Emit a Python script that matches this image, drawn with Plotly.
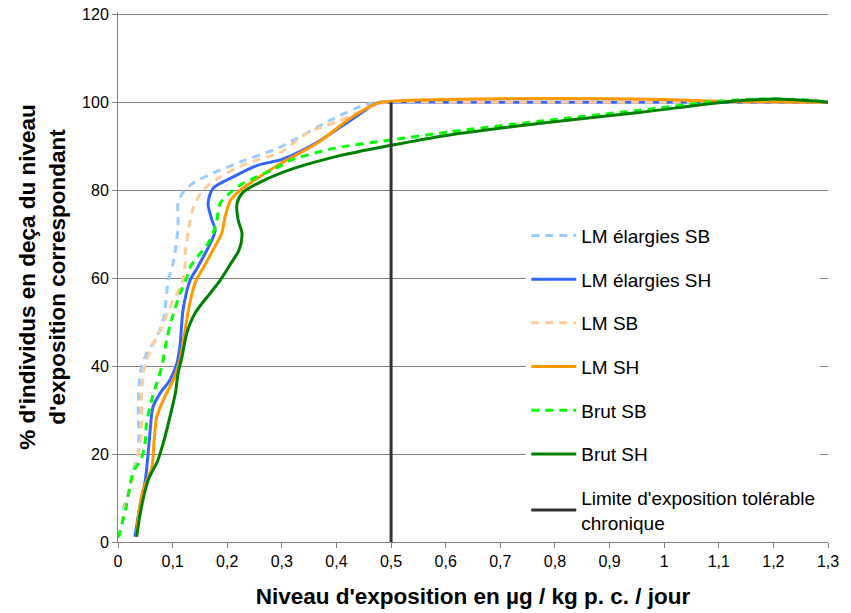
import plotly.graph_objects as go

# ---------------- data ----------------
lme_sb_x = [0.008, 0.011, 0.019, 0.028, 0.037, 0.037, 0.039, 0.043, 0.053, 0.068, 0.083, 0.092, 0.100, 0.105,
            0.110, 0.110, 0.119, 0.138, 0.174, 0.224, 0.297, 0.389, 0.45, 0.475, 0.6, 0.8, 1.0, 1.2, 1.3]
lme_sb_y = [4, 8, 11, 16.4, 20, 30, 36.4, 39.8, 43, 45.9, 50.5, 59.5, 63, 66.4,
            71.6, 77, 79.5, 81.6, 83.9, 86.4, 89.8, 95.9, 99.3, 100, 100, 100, 100, 100, 100]

lme_sh_x = [0.031, 0.040, 0.050, 0.055, 0.059, 0.064, 0.077, 0.095, 0.108, 0.114, 0.119, 0.132, 0.145, 0.156,
            0.169, 0.178, 0.172, 0.165, 0.174, 0.211, 0.257, 0.300, 0.365, 0.426, 0.475, 0.5, 0.6, 0.8, 1.0, 1.2, 1.3]
lme_sh_y = [1.2, 8, 14, 20, 25.5, 30.7, 33.8, 36.8, 40.7, 45.2, 52.7, 59.5, 62.3, 64.8,
            67.9, 70.9, 73.2, 77, 80.4, 83, 85.7, 87, 90.9, 95.9, 99.8, 100, 100, 100, 100, 100, 100]

lm_sb_x = [0.008, 0.013, 0.025, 0.037, 0.043, 0.043, 0.045, 0.050, 0.062, 0.080, 0.095, 0.117, 0.123, 0.123,
           0.129, 0.138, 0.156, 0.187, 0.236, 0.297, 0.347, 0.400, 0.462, 0.49, 0.6, 0.8, 1.0, 1.2, 1.3]
lm_sb_y = [4, 8, 13.4, 20, 25, 33, 36.4, 40.7, 44.3, 48.9, 53.4, 58.9, 63, 65.7,
           70.9, 76.1, 80, 83, 86.1, 88.6, 93, 95.5, 98.9, 100, 100, 100, 100, 100, 100]

lm_sh_x = [0.034, 0.037, 0.046, 0.062, 0.066, 0.071, 0.083, 0.101, 0.112, 0.119, 0.129, 0.141, 0.156, 0.174,
           0.190, 0.196, 0.206, 0.224, 0.250, 0.297, 0.365, 0.426, 0.475, 0.5, 0.55, 0.7, 0.9, 1.0, 1.1, 1.3]
lm_sh_y = [1.2, 5.7, 11.8, 17, 23, 28.4, 32.3, 36.8, 40.7, 45.2, 52.7, 58.9, 62.3, 66.4,
           70.2, 73.9, 77.7, 80, 82.3, 86, 90.7, 96.4, 99.8, 100.2, 100.5, 100.8, 100.8, 100.6, 100.2, 100]

brut_sb_x = [0.0, 0.002, 0.009, 0.015, 0.019, 0.028, 0.043, 0.050, 0.052, 0.057, 0.064, 0.071, 0.080, 0.089,
             0.098, 0.114, 0.126, 0.132, 0.145, 0.163, 0.174, 0.181, 0.187, 0.206, 0.229, 0.254, 0.297, 0.316,
             0.395, 0.5, 0.604, 0.774, 0.958, 1.08, 1.17, 1.264, 1.3]
brut_sb_y = [1, 1.6, 5, 8, 10.7, 16, 19, 23, 27, 30, 33.4, 36.1, 39.8, 45.9,
             50.5, 56.6, 60.2, 62.5, 64.8, 67.5, 70.2, 73.2, 77, 79.5, 81.6, 83, 85.5, 86.8,
             89.5, 91.4, 93.2, 95.7, 98.2, 100, 100.7, 100.5, 100]

brut_sh_x = [0.034, 0.043, 0.055, 0.073, 0.086, 0.095, 0.105, 0.110, 0.117, 0.126, 0.141, 0.169, 0.187,
             0.205, 0.222, 0.227, 0.220, 0.218, 0.229, 0.257, 0.300, 0.395, 0.5, 0.604, 0.774, 0.958, 1.11, 1.2, 1.3]
brut_sh_y = [1.2, 8, 14, 18.6, 23.9, 28.4, 33.8, 38.4, 42, 47.5, 52, 56.6, 59.5,
             63, 66.5, 70.2, 73.2, 77, 79.5, 81.6, 84, 87.5, 90.2, 92.5, 95.2, 97.7, 100, 100.7, 100]

limit_x = [0.5, 0.5]
limit_y = [0, 100]

x_ticks = [0, 0.1, 0.2, 0.3, 0.4, 0.5, 0.6, 0.7, 0.8, 0.9, 1.0, 1.1, 1.2, 1.3]
x_tick_text = ["0", "0,1", "0,2", "0,3", "0,4", "0,5", "0,6", "0,7", "0,8", "0,9", "1", "1,1", "1,2", "1,3"]
y_ticks = [0, 20, 40, 60, 80, 100, 120]

series = [
    ("LM élargies SB", lme_sb_x, lme_sb_y, "#99CCFF", "8px,6px"),
    ("LM élargies SH", lme_sh_x, lme_sh_y, "#3366FF", "solid"),
    ("LM SB", lm_sb_x, lm_sb_y, "#FFCC99", "8px,6px"),
    ("LM SH", lm_sh_x, lm_sh_y, "#FF9900", "solid"),
    ("Brut SB", brut_sb_x, brut_sb_y, "#00FF00", "8px,6px"),
    ("Brut SH", brut_sh_x, brut_sh_y, "#008000", "solid"),
]

FONT = "Liberation Sans, Arial, sans-serif"

fig = go.Figure()
for i, (name, xs, ys, col, dash) in enumerate(series):
    fig.add_trace(go.Scatter(
        x=xs, y=ys, mode="lines", name=name, legendgroup=f"g{i}",
        line=dict(color=col, width=3, dash=dash, shape="spline", smoothing=0.8),
    ))
fig.add_trace(go.Scatter(
    x=limit_x, y=limit_y, mode="lines", name="Limite d'exposition tolérable<br>chronique",
    legendgroup="g7", line=dict(color="#333333", width=3),
))

fig.update_layout(
    width=851, height=613,
    margin=dict(l=110, r=31, t=4, b=79, autoexpand=False),
    paper_bgcolor="white", plot_bgcolor="white",
    font=dict(family=FONT, color="black", size=16),
    legend=dict(
        x=0.575, y=0.614, xanchor="left", yanchor="top",
        bgcolor="white", borderwidth=0,
        font=dict(size=19, family=FONT),
        tracegroupgap=16, itemwidth=45,
        traceorder="grouped",
    ),
    xaxis=dict(
        range=[0, 1.3], tickvals=x_ticks, ticktext=x_tick_text,
        showgrid=False, zeroline=False, automargin=False,
        showline=True, linecolor="#808080", linewidth=1,
        ticks="outside", ticklen=5, tickcolor="#808080",
        tickfont=dict(size=16), ticklabeloverflow="allow",
        title=dict(text="<b>Niveau d'exposition en µg / kg p. c. / jour</b>",
                   font=dict(size=22.5), standoff=19),
    ),
    yaxis=dict(
        range=[0, 120.5], tickvals=y_ticks,
        showgrid=True, gridcolor="#808080", gridwidth=1,
        zeroline=False, automargin=False,
        showline=True, linecolor="#808080", linewidth=1,
        ticks="outside", ticklen=5, tickcolor="#808080",
        tickfont=dict(size=16), ticklabeloverflow="allow",
        title=dict(text="<b>% d'individus en deça du niveau<br>d'exposition correspondant</b>",
                   font=dict(size=22.5), standoff=10),
    ),
)

fig.write_html("out.html")
